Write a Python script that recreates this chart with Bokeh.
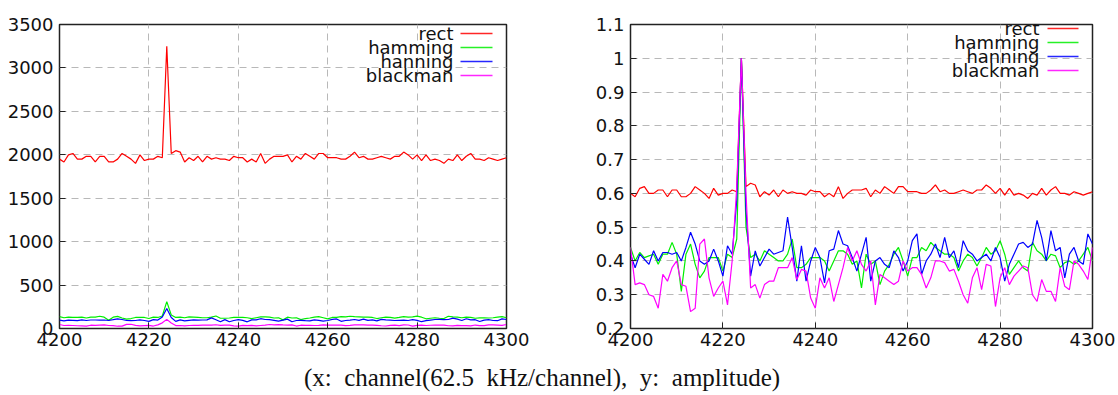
import numpy as np
from bokeh.plotting import figure
from bokeh.models import (Range1d, FixedTicker, Label, BoxAnnotation,
                          Div, CustomJSTickFormatter)
from bokeh.layouts import row, column
from bokeh.embed import file_html
from bokeh.resources import INLINE

# FFT channels around the tone
channel = list(range(4200, 4301))

# Spectra normalised to the peak bin, one per window function
rect_norm = [
    0.600, 0.590, 0.615, 0.620, 0.600, 0.600, 0.610, 0.610, 0.590, 0.610,
    0.610, 0.590, 0.590, 0.600, 0.620, 0.610, 0.600, 0.585, 0.615, 0.595,
    0.600, 0.600, 0.610, 0.605, 1.000, 0.620, 0.630, 0.625, 0.590, 0.605,
    0.595, 0.610, 0.590, 0.610, 0.600, 0.605, 0.600, 0.600, 0.595, 0.610,
    0.605, 0.605, 0.590, 0.600, 0.590, 0.620, 0.585, 0.600, 0.610, 0.610,
    0.610, 0.615, 0.590, 0.610, 0.600, 0.620, 0.610, 0.600, 0.620, 0.620,
    0.605, 0.605, 0.605, 0.600, 0.600, 0.610, 0.625, 0.605, 0.610, 0.600,
    0.600, 0.605, 0.610, 0.605, 0.600, 0.610, 0.610, 0.625, 0.615, 0.600,
    0.615, 0.595, 0.615, 0.595, 0.600, 0.595, 0.585, 0.600, 0.595, 0.615,
    0.595, 0.610, 0.620, 0.600, 0.600, 0.595, 0.605, 0.600, 0.595, 0.600,
    0.605,
]
hamming_norm = [
    0.440, 0.400, 0.425, 0.410, 0.415, 0.420, 0.390, 0.420, 0.420, 0.455,
    0.420, 0.310, 0.420, 0.450, 0.390, 0.350, 0.370, 0.410, 0.410, 0.410,
    0.370, 0.420, 0.410, 0.465, 1.000, 0.500, 0.410, 0.420, 0.400, 0.430,
    0.420, 0.410, 0.400, 0.400, 0.420, 0.465, 0.380, 0.380, 0.390, 0.410,
    0.410, 0.410, 0.400, 0.370, 0.400, 0.430, 0.430, 0.420, 0.390, 0.400,
    0.320, 0.420, 0.390, 0.400, 0.330, 0.370, 0.390, 0.420, 0.440, 0.400,
    0.355, 0.410, 0.410, 0.440, 0.430, 0.455, 0.440, 0.430, 0.420, 0.420,
    0.410, 0.370, 0.400, 0.420, 0.410, 0.385, 0.410, 0.440, 0.420, 0.430,
    0.460, 0.420, 0.360, 0.380, 0.400, 0.380, 0.370, 0.455, 0.430, 0.420,
    0.400, 0.420, 0.415, 0.380, 0.395, 0.400, 0.390, 0.400, 0.420, 0.440,
    0.400,
]
hanning_norm = [
    0.420, 0.380, 0.420, 0.405, 0.390, 0.430, 0.400, 0.425, 0.425, 0.420,
    0.425, 0.400, 0.440, 0.485, 0.450, 0.400, 0.390, 0.400, 0.435, 0.400,
    0.355, 0.445, 0.420, 0.580, 1.000, 0.550, 0.355, 0.430, 0.385, 0.410,
    0.435, 0.420, 0.425, 0.430, 0.530, 0.440, 0.340, 0.445, 0.340, 0.400,
    0.440, 0.410, 0.335, 0.430, 0.435, 0.490, 0.450, 0.445, 0.410, 0.370,
    0.420, 0.470, 0.340, 0.400, 0.410, 0.390, 0.380, 0.430, 0.410, 0.370,
    0.400, 0.460, 0.480, 0.360, 0.400, 0.420, 0.450, 0.410, 0.470, 0.410,
    0.430, 0.380, 0.460, 0.430, 0.420, 0.400, 0.410, 0.420, 0.400, 0.440,
    0.410, 0.340, 0.390, 0.420, 0.450, 0.455, 0.440, 0.450, 0.520, 0.470,
    0.400, 0.490, 0.430, 0.440, 0.350, 0.420, 0.440, 0.400, 0.390, 0.480,
    0.450,
]
blackman_norm = [
    0.440, 0.330, 0.335, 0.330, 0.300, 0.295, 0.260, 0.360, 0.340, 0.380,
    0.400, 0.330, 0.325, 0.250, 0.260, 0.450, 0.465, 0.350, 0.295, 0.320,
    0.340, 0.270, 0.400, 0.620, 1.000, 0.600, 0.320, 0.330, 0.290, 0.330,
    0.340, 0.340, 0.380, 0.380, 0.380, 0.410, 0.345, 0.375, 0.370, 0.290,
    0.260, 0.350, 0.320, 0.350, 0.280, 0.330, 0.380, 0.440, 0.400, 0.430,
    0.390, 0.370, 0.400, 0.270, 0.360, 0.350, 0.340, 0.330, 0.340, 0.400,
    0.370, 0.380, 0.380, 0.360, 0.320, 0.350, 0.400, 0.400, 0.395, 0.370,
    0.375, 0.340, 0.300, 0.275, 0.350, 0.380, 0.315, 0.390, 0.385, 0.265,
    0.350, 0.380, 0.330, 0.355, 0.370, 0.385, 0.380, 0.300, 0.280, 0.345,
    0.310, 0.310, 0.280, 0.380, 0.325, 0.315, 0.400, 0.390, 0.370, 0.345,
    0.440,
]

# Peak amplitude of each windowed spectrum (raw units)
peak_rect = 3250
peak_hamming = 310
peak_hanning = 230
peak_blackman = 105

window_names = ["rect", "hamming", "hanning", "blackman"]
window_colors = ["#ff0000", "#00ee00", "#0000ff", "#ff00ff"]

x_ticks = [4200, 4220, 4240, 4260, 4280, 4300]
amp_ticks = [0, 500, 1000, 1500, 2000, 2500, 3000, 3500]
norm_ticks = [0.2, 0.3, 0.4, 0.5, 0.6, 0.7, 0.8, 0.9, 1.0, 1.1]

norm_series = [rect_norm, hamming_norm, hanning_norm, blackman_norm]
peaks = [peak_rect, peak_hamming, peak_hanning, peak_blackman]
amp_series = [list(np.array(s) * pk) for s, pk in zip(norm_series, peaks)]

FONT = "DejaVu Sans"
FS = "18px"


def style_axis(ax, ticker):
    ax.ticker = FixedTicker(ticks=ticker)
    ax.axis_line_color = None
    ax.major_tick_in = 6
    ax.major_tick_out = 0
    ax.major_tick_line_color = "#222222"
    ax.major_tick_line_width = 1
    ax.minor_tick_line_color = None
    ax.major_label_text_font = FONT
    ax.major_label_text_font_size = FS
    ax.major_label_text_color = "#111111"
    ax.major_label_standoff = 6


def make_panel(series, y0, y1, yticks, width, height, border, legend, formatter=None):
    left, right, top, bottom = border
    p = figure(width=width, height=height, output_backend="svg", toolbar_location=None,
               x_range=Range1d(4200, 4300), y_range=Range1d(y0, y1),
               min_border_left=left, min_border_right=right,
               min_border_top=top, min_border_bottom=bottom)
    p.background_fill_color = "white"
    p.border_fill_color = "white"
    p.outline_line_color = "#222222"
    p.outline_line_width = 1.5

    style_axis(p.xaxis[0], x_ticks)
    style_axis(p.yaxis[0], yticks)
    p.xaxis[0].major_label_standoff = 4
    if formatter is not None:
        p.yaxis[0].formatter = formatter

    for g in (p.xgrid, p.ygrid):
        g.grid_line_color = "#b8b8b8"
        g.grid_line_dash = "7 5"
        g.grid_line_width = 1

    for ys, color in zip(series, window_colors):
        p.line(channel, ys, line_color=color, line_width=1.2)

    text_right, line_l, line_r, rows = legend
    for name, color, yy in zip(window_names, window_colors, rows):
        p.add_layout(Label(x=text_right, y=yy, x_units="screen", y_units="screen",
                           text=name, text_align="right", text_baseline="middle",
                           text_font=FONT, text_font_size=FS, text_color="#111111"))
        p.add_layout(BoxAnnotation(left=line_l, right=line_r, bottom=yy - 0.8, top=yy + 0.8,
                                   left_units="screen", right_units="screen",
                                   top_units="screen", bottom_units="screen",
                                   fill_color=color, fill_alpha=0.85, line_color=None))
    return p


# left panel: frame 447 x 305
left_rows = [305 - 10, 305 - 24, 305 - 38, 305 - 52]
p1 = make_panel(amp_series, 0, 3500, amp_ticks, 570, 360, (59, 64, 24, 31),
                (394, 401, 433, left_rows))

# right panel: frame 462 x 310
right_rows = [310 - 10, 310 - 24, 310 - 38, 310 - 52]
fmt = CustomJSTickFormatter(code="return (Math.round(tick * 10) / 10).toString();")
p2 = make_panel(norm_series, 0.2, 1.1, norm_ticks, 548, 360, (60, 26, 18, 32),
                (409, 417, 448, right_rows), formatter=fmt)

caption = Div(text="(x:&nbsp; channel(62.5&nbsp; kHz/channel),&nbsp; y:&nbsp; amplitude)",
              width=1084, height=35, margin=(0, 0, 0, 0),
              styles={"font-family": "Liberation Serif", "font-size": "25px",
                      "text-align": "center", "line-height": "35px",
                      "color": "#111111", "width": "1084px"})

layout = column(row(p1, p2, spacing=0), caption, spacing=0)

with open("out.html", "w") as f:
    f.write(file_html(layout, INLINE))
